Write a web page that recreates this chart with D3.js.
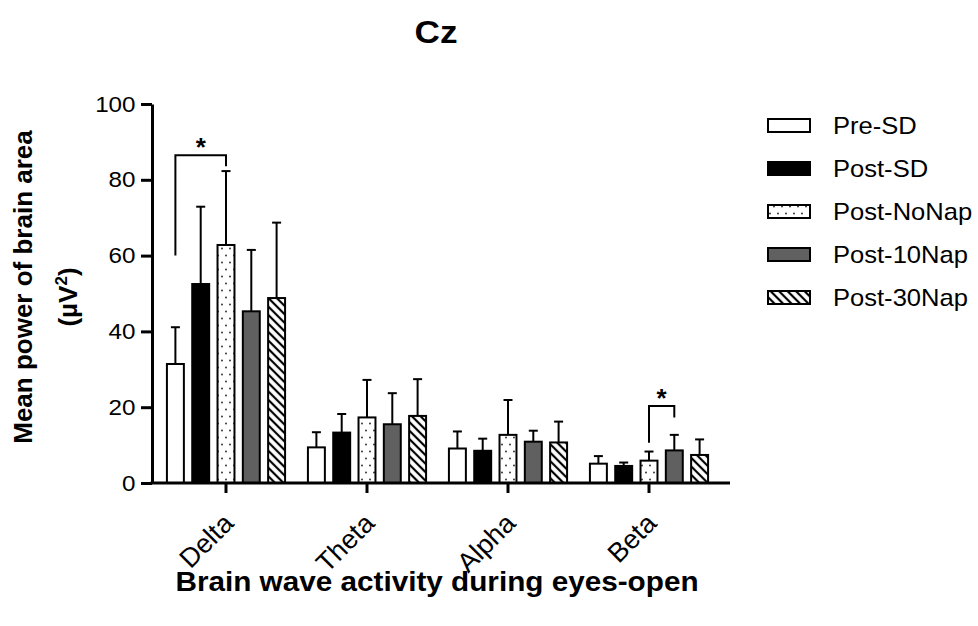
<!DOCTYPE html>
<html><head><meta charset="utf-8">
<script src="https://cdn.jsdelivr.net/npm/d3@7"></script>
<style>body{margin:0;background:#fff}</style>
</head><body>
<svg id="c" width="978" height="626"></svg>
<script>
// ---- data ----
const categories = ["Delta", "Theta", "Alpha", "Beta"];
const seriesNames = ["Pre-SD", "Post-SD", "Post-NoNap", "Post-10Nap", "Post-30Nap"];
const preSD      = [31.4, 9.4, 9.1, 5.1];
const preSDsd    = [9.7, 4.0, 4.5, 2.0];
const postSD     = [52.5, 13.3, 8.5, 4.5];
const postSDsd   = [20.4, 4.9, 3.2, 0.9];
const postNoNap  = [62.8, 17.3, 12.7, 5.9];
const postNoNapSd= [19.5, 9.9, 9.2, 2.4];
const post10Nap  = [45.3, 15.5, 10.9, 8.6];
const post10NapSd= [16.2, 8.2, 2.9, 4.1];
const post30Nap  = [48.8, 17.7, 10.7, 7.4];
const post30NapSd= [19.9, 9.7, 5.5, 4.1];
const yTicks = [0, 20, 40, 60, 80, 100];
// significance brackets: category, from series, to series, left foot, top, right foot
const sigCategory = ["Delta", "Beta"];
const sigFrom = ["Pre-SD", "Post-NoNap"];
const sigTo = ["Post-NoNap", "Post-10Nap"];
const sigLeftFoot = [60, 10.6];
const sigTop = [86.5, 20.3];
const sigRightFoot = [83.6, 17.3];

const means = [preSD, postSD, postNoNap, post10Nap, post30Nap];
const sds = [preSDsd, postSDsd, postNoNapSd, post10NapSd, post30NapSd];

const FONT = "'Liberation Sans', Arial, Helvetica, sans-serif";
const SX = 1.1; // horizontal stretch of the reference text
const svg = d3.select("#c");

// patterns
const defs = svg.append("defs");
const dots = defs.append("pattern").attr("id", "dots").attr("patternUnits", "userSpaceOnUse")
  .attr("width", 8).attr("height", 14);
dots.append("rect").attr("width", 8).attr("height", 14).attr("fill", "#fff");
dots.append("circle").attr("cx", 2).attr("cy", 3.5).attr("r", 0.9).attr("fill", "#222");
dots.append("circle").attr("cx", 6).attr("cy", 10.5).attr("r", 0.9).attr("fill", "#222");
const hatch = defs.append("pattern").attr("id", "hatch").attr("patternUnits", "userSpaceOnUse")
  .attr("width", 6).attr("height", 6).attr("patternTransform", "rotate(-45)");
hatch.append("rect").attr("width", 6).attr("height", 6).attr("fill", "#fff");
hatch.append("line").attr("x1", 3).attr("x2", 3).attr("y1", 0).attr("y2", 6)
  .attr("stroke", "#000").attr("stroke-width", 2.2);

const fills = ["#ffffff", "#000000", "url(#dots)", "#606060", "url(#hatch)"];

// scales
const x0 = d3.scaleBand().domain(categories).range([155.5, 719.5]);
const x1 = d3.scaleBand().domain(seriesNames).range([-63.25, 63.25]).paddingInner(0.33).paddingOuter(0.165);
const y = d3.scaleLinear().domain([0, 100]).range([483, 104]);
const cx = c => x0(c) + x0.bandwidth() / 2;
const axisLeftX = 152, axisRightX = 730;

function stretchedText(parent, x, yy, size, txt, anchor, weight, sx) {
  return parent.append("text")
    .attr("transform", `translate(${x},${yy}) scale(${sx || SX},1)`)
    .attr("text-anchor", anchor || "start")
    .attr("font-family", FONT).attr("font-size", size)
    .attr("font-weight", weight || "normal").text(txt);
}

// bars
const rows = [];
categories.forEach((c, ci) => seriesNames.forEach((s, si) => rows.push({c, s, si, m: means[si][ci], sd: sds[si][ci]})));

const g = svg.append("g");
g.selectAll("line.err").data(rows).enter().append("line")
  .attr("x1", d => cx(d.c) + x1(d.s) + x1.bandwidth() / 2)
  .attr("x2", d => cx(d.c) + x1(d.s) + x1.bandwidth() / 2)
  .attr("y1", d => y(d.m)).attr("y2", d => y(d.m + d.sd))
  .attr("stroke", "#000").attr("stroke-width", 2);
g.selectAll("line.cap").data(rows).enter().append("line")
  .attr("x1", d => cx(d.c) + x1(d.s) + x1.bandwidth() / 2 - 4.5)
  .attr("x2", d => cx(d.c) + x1(d.s) + x1.bandwidth() / 2 + 4.5)
  .attr("y1", d => y(d.m + d.sd)).attr("y2", d => y(d.m + d.sd))
  .attr("stroke", "#000").attr("stroke-width", 2);
g.selectAll("rect.bar").data(rows).enter().append("rect")
  .attr("x", d => cx(d.c) + x1(d.s))
  .attr("width", x1.bandwidth())
  .attr("y", d => y(d.m)).attr("height", d => y(0) - y(d.m))
  .attr("fill", d => fills[d.si]).attr("stroke", "#000").attr("stroke-width", 2);

// significance brackets
sigCategory.forEach((c, i) => {
  const xl = cx(c) + x1(sigFrom[i]) + x1.bandwidth() / 2;
  const xr = cx(c) + x1(sigTo[i]) + x1.bandwidth() / 2;
  svg.append("path")
    .attr("d", `M${xl},${y(sigLeftFoot[i])}V${y(sigTop[i])}H${xr}V${y(sigRightFoot[i])}`)
    .attr("fill", "none").attr("stroke", "#000").attr("stroke-width", 2);
  svg.append("text").attr("x", (xl + xr) / 2).attr("y", y(sigTop[i]) + 1)
    .attr("text-anchor", "middle").attr("font-family", FONT).attr("font-size", 26)
    .attr("font-weight", "bold").text("*");
});

// y axis
const ya = svg.append("g").attr("transform", `translate(${axisLeftX},0)`)
  .call(d3.axisLeft(y).tickValues(yTicks).tickSize(11).tickSizeOuter(0).tickPadding(4));
ya.select(".domain").attr("stroke-width", 3);
ya.selectAll(".tick line").attr("stroke-width", 3);
ya.selectAll(".tick text").attr("font-family", FONT).attr("font-size", 22).attr("fill", "#000")
  .attr("x", -16.5 / SX).attr("transform", `scale(${SX},1)`);

// x axis
svg.append("line").attr("x1", axisLeftX - 1.5).attr("x2", axisRightX).attr("y1", y(0)).attr("y2", y(0))
  .attr("stroke", "#000").attr("stroke-width", 3);
const xa = svg.append("g").attr("transform", `translate(0,${y(0)})`)
  .call(d3.axisBottom(x0).tickSize(10).tickSizeOuter(0));
xa.select(".domain").remove();
xa.selectAll(".tick line").attr("stroke-width", 3);
xa.selectAll(".tick text").attr("font-family", FONT).attr("font-size", 27).attr("fill", "#000")
  .attr("x", 0).attr("y", 0).attr("dy", 0).attr("text-anchor", "end")
  .attr("transform", "translate(9,42) rotate(-45)");

// title
stretchedText(svg, 436, 43, 32, "Cz", "middle", "bold");

// x title
stretchedText(svg, 437, 591, 27, "Brain wave activity during eyes-open", "middle", "bold");

// y title
svg.append("text").attr("transform", "translate(32,287) rotate(-90)").attr("text-anchor", "middle")
  .attr("font-family", FONT).attr("font-weight", "bold").attr("font-size", 26)
  .text("Mean power of brain area");
const yt2 = svg.append("text").attr("transform", "translate(77,297) rotate(-90)").attr("text-anchor", "middle")
  .attr("font-family", FONT).attr("font-weight", "bold").attr("font-size", 26);
yt2.append("tspan").text("(µV");
yt2.append("tspan").attr("font-size", 17).attr("dy", -10).text("2");
yt2.append("tspan").attr("dy", 10).text(")");

// legend
const lg = svg.append("g");
seriesNames.forEach((s, i) => {
  const cy = 125.5 + 43 * i;
  lg.append("rect").attr("x", 768).attr("y", cy - 6.5).attr("width", 42).attr("height", 13)
    .attr("fill", fills[i]).attr("stroke", "#000").attr("stroke-width", 2);
  stretchedText(lg, 833, cy, 24, s, "start", "normal", 1.065).attr("dominant-baseline", "central");
});
</script>
</body></html>
